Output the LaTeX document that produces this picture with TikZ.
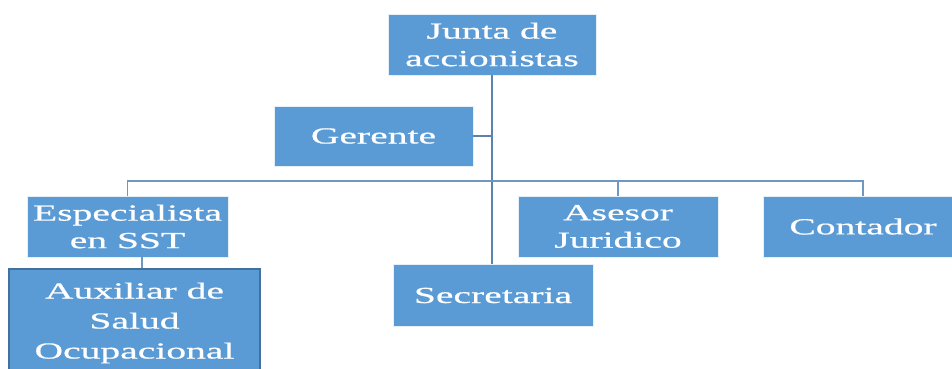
\documentclass[tikz,border=0pt]{standalone}
\usepackage{fontspec}
\newfontfamily\orgfont[FakeStretch=1.72, FakeBold=0.6]{Liberation Serif}
\definecolor{boxblue}{HTML}{5B9BD5}
\definecolor{boxedge}{HTML}{41719C}
\definecolor{linkblue}{HTML}{6F98C0}
\definecolor{trunkblue}{HTML}{5A84AE}

\tikzstyle{post}=[fill=boxblue, draw=white!85!boxblue, line width=0.8pt,
  text=white, align=center, font=\orgfont\fontsize{23}{27.5}\selectfont,
  inner sep=0pt, minimum width=200pt, minimum height=61pt]
\tikzstyle{link}=[draw=linkblue, line width=1.6pt]

\begin{document}
\begin{tikzpicture}[x=1pt, y=-1pt]
  \useasboundingbox (0,0) rectangle (952,369);
  \clip (0,0) rectangle (952,369);
  \node[post, minimum width=208pt] (junta) at (492,44.5) {Junta de\\accionistas};
  \node[post, minimum width=199pt, minimum height=60pt] (gerente) at (373.5,136) {Gerente};
  \node[post, minimum width=201pt] (especialista) at (127.5,226.5) {Especialista\\en SST};
  \node[post] (asesor) at (618,226.5) {Asesor\\Juridico};
  \node[post] (contador) at (863,226.5) {Contador};
  \node[post, minimum height=62pt] (secretaria) at (493,295.5) {Secretaria};
  \node[post, draw=boxedge, line width=1.2pt, minimum width=251pt, minimum height=108pt,
    font=\orgfont\fontsize{23}{30}\selectfont] (auxiliar) at (134.5,323) {Auxiliar de\\Salud\\Ocupacional};
  \coordinate (bus) at (492,181);
  % organigrama
  \draw[link, draw=trunkblue] (junta.south) -- (junta.south |- secretaria.north);
  \draw[link, draw=trunkblue] (gerente.east) -- (junta.south |- gerente.east);
  \foreach \cargo in {especialista, asesor, contador} {%
    \draw[link] (bus) -| (\cargo.north);
  }
  \draw[link] ([xshift=14.5pt]especialista.south) -- ([xshift=14.5pt]especialista.south |- auxiliar.north);
\end{tikzpicture}
\end{document}
